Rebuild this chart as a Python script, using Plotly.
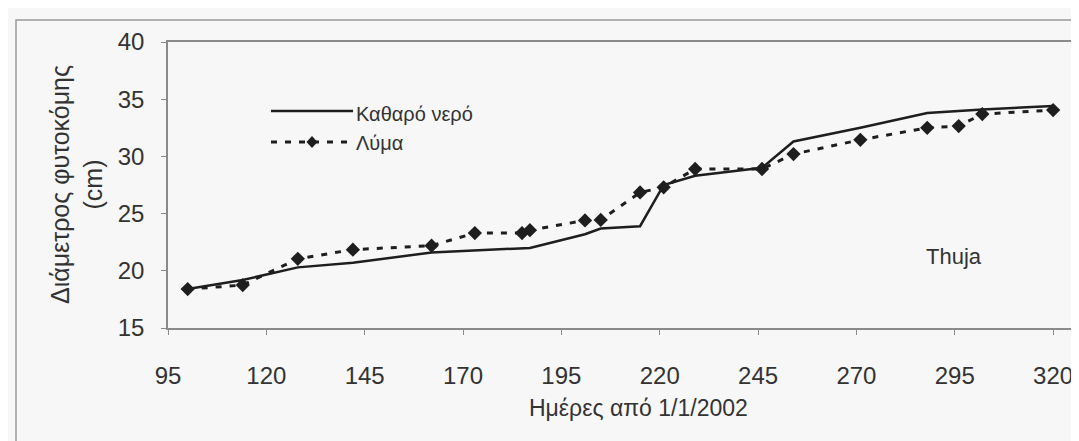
import plotly.graph_objects as go

# ---- data ----
days = [100, 114, 128, 142, 162, 173, 185, 187, 201, 205, 215, 221, 229, 246, 254, 271, 288, 296, 302, 320]
clean_water = [18.4, 19.2, 20.3, 20.7, 21.6, 21.8, 22.0, 22.0, 23.2, 23.7, 23.9, 27.5, 28.3, 29.0, 31.3, 32.5, 33.8, 34.0, 34.1, 34.4]
sludge = [18.4, 18.75, 21.05, 21.85, 22.2, 23.3, 23.3, 23.55, 24.4, 24.45, 26.85, 27.3, 28.9, 28.9, 30.2, 31.45, 32.5, 32.65, 33.7, 34.05]
x_ticks = [95, 120, 145, 170, 195, 220, 245, 270, 295, 320]
y_ticks = [15, 20, 25, 30, 35, 40]
series_names = ["Καθαρό νερό", "Λύμα"]

W, H = 1079, 441
L, R, T, B = 160, 15, 34, 121
pw, ph = W - L - R, H - T - B


def px_x(p):
    return (p - L) / pw


def px_y(p):
    return (H - B - p) / ph


FONT = "Arial, Liberation Sans, sans-serif"
INK = "#1e1e1e"
TXT = "#333333"

fig = go.Figure()
fig.add_trace(go.Scatter(x=days, y=clean_water, mode="lines", name=series_names[0],
                         line=dict(color=INK, width=2.5), showlegend=False))
fig.add_trace(go.Scatter(x=days, y=sludge, mode="lines+markers", name=series_names[1],
                         line=dict(color=INK, width=3, dash="6px,8px"),
                         marker=dict(symbol="diamond", size=11, color=INK), showlegend=False))

shapes = []
# outer chart frame (only left/top edges fall inside the picture)
shapes.append(dict(type="rect", xref="paper", yref="paper",
                   x0=px_x(8), y0=px_y(470), x1=px_x(1110), y1=px_y(12),
                   line=dict(color="#9a9a9a", width=1.5), fillcolor="rgba(0,0,0,0)", layer="below"))
# custom legend samples
lx0, lx1 = 263, 345
shapes.append(dict(type="line", xref="paper", yref="paper",
                   x0=px_x(lx0), x1=px_x(lx1), y0=px_y(103), y1=px_y(103),
                   line=dict(color=INK, width=2.5)))
shapes.append(dict(type="line", xref="paper", yref="paper",
                   x0=px_x(lx0), x1=px_x(lx1), y0=px_y(134), y1=px_y(134),
                   line=dict(color=INK, width=3, dash="6px,8px")))
cx, cy = 304, 134
path = "M {} {} L {} {} L {} {} L {} {} Z".format(
    px_x(cx), px_y(cy - 6), px_x(cx + 5.5), px_y(cy), px_x(cx), px_y(cy + 6), px_x(cx - 5.5), px_y(cy))
shapes.append(dict(type="path", xref="paper", yref="paper", path=path,
                   fillcolor=INK, line=dict(color=INK, width=0)))

annotations = [
    dict(text=series_names[0], xref="paper", yref="paper", x=px_x(346), y=px_y(106),
         xanchor="left", yanchor="middle", showarrow=False, font=dict(family=FONT, size=20, color=TXT)),
    dict(text=series_names[1], xref="paper", yref="paper", x=px_x(346), y=px_y(135),
         xanchor="left", yanchor="middle", showarrow=False, font=dict(family=FONT, size=20, color=TXT)),
    dict(text="Thuja", xref="paper", yref="paper", x=px_x(946), y=px_y(248),
         xanchor="center", yanchor="middle", showarrow=False, font=dict(family=FONT, size=22, color=TXT)),
    dict(text="Ημέρες από 1/1/2002", xref="paper", yref="paper", x=px_x(630), y=px_y(400),
         xanchor="center", yanchor="middle", showarrow=False, font=dict(family=FONT, size=23, color=TXT)),
    dict(text="Διάμετρος φυτοκόμης<br>(cm)", xref="paper", yref="paper", x=px_x(68), y=px_y(177),
         xanchor="center", yanchor="middle", textangle=-90, showarrow=False,
         font=dict(family=FONT, size=25, color=TXT)),
]

fig.update_layout(
    width=W, height=H,
    margin=dict(l=L, r=R, t=T, b=B, pad=0),
    paper_bgcolor="#f7f7f7", plot_bgcolor="#f7f7f7",
    font=dict(family=FONT, size=24, color=TXT),
    shapes=shapes, annotations=annotations,
    showlegend=False,
)
fig.update_xaxes(range=[95, 324.8], tickvals=x_ticks, ticktext=[str(v) for v in x_ticks],
                 showgrid=False, zeroline=False, showline=True, mirror=True,
                 linecolor="#8a8a8a", linewidth=1.5, ticks="outside", ticklen=5,
                 tickcolor="#8a8a8a", ticklabelstandoff=20, tickfont=dict(size=24, color=TXT))
fig.update_yaxes(range=[15, 40], tickvals=y_ticks, ticktext=[str(v) for v in y_ticks],
                 showgrid=False, zeroline=False, showline=True, mirror=True,
                 linecolor="#8a8a8a", linewidth=1.5, ticks="outside", ticklen=5,
                 tickcolor="#8a8a8a", ticklabelstandoff=12, tickfont=dict(size=24, color=TXT))

fig.write_html("out.html")
